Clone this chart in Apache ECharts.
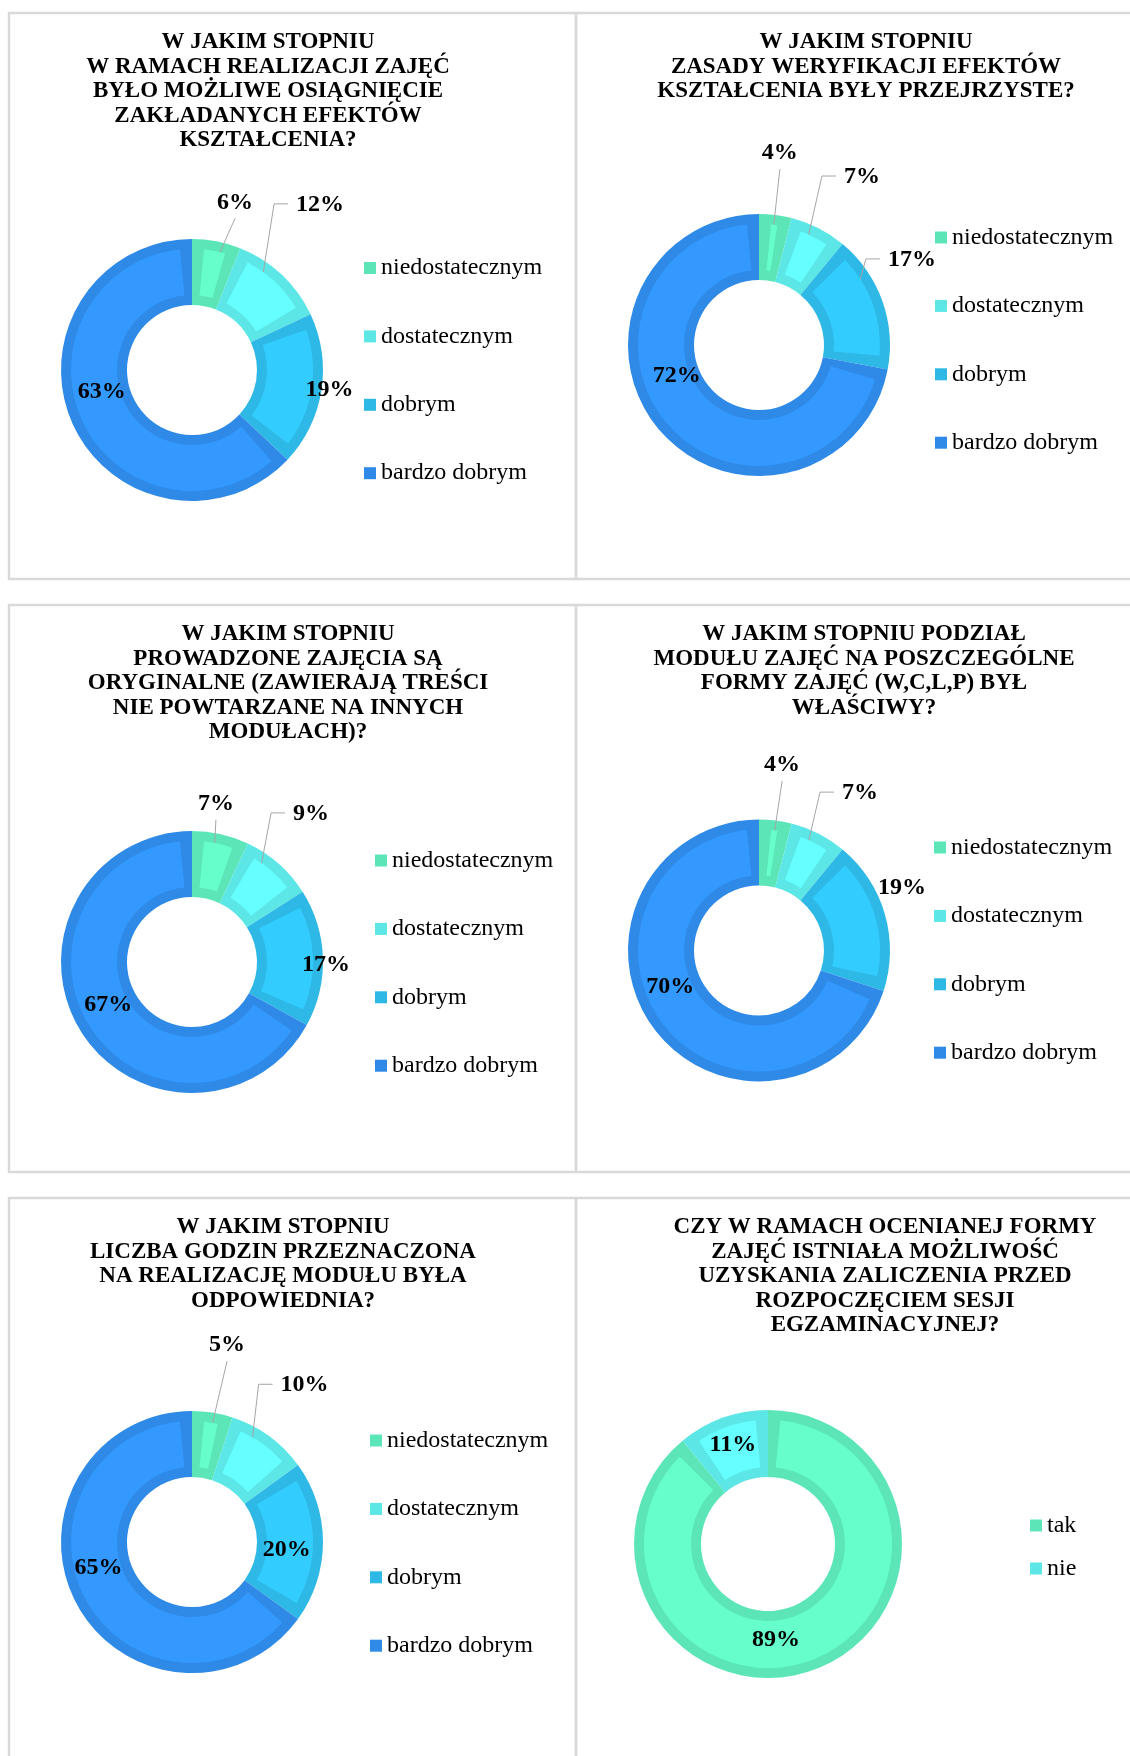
<!DOCTYPE html>
<html>
<head>
<meta charset="utf-8">
<script src="https://cdn.jsdelivr.net/npm/echarts@6/dist/echarts.min.js"></script>
<style>
html,body{margin:0;padding:0;background:#ffffff;}
#chart{width:1130px;height:1756px;}
</style>
</head>
<body>
<div id="chart"></div>
<script>
// ---------------- DATA ----------------
const GRADE_CATEGORIES = ['niedostatecznym', 'dostatecznym', 'dobrym', 'bardzo dobrym'];
const YESNO_CATEGORIES = ['tak', 'nie'];

const TITLE_1 = ['W JAKIM STOPNIU', 'W RAMACH REALIZACJI ZAJĘĆ', 'BYŁO MOŻLIWE OSIĄGNIĘCIE', 'ZAKŁADANYCH EFEKTÓW', 'KSZTAŁCENIA?'];
const VALUES_1 = [6, 12, 19, 63];

const TITLE_2 = ['W JAKIM STOPNIU', 'ZASADY WERYFIKACJI EFEKTÓW', 'KSZTAŁCENIA BYŁY PRZEJRZYSTE?'];
const VALUES_2 = [4, 7, 17, 72];

const TITLE_3 = ['W JAKIM STOPNIU', 'PROWADZONE ZAJĘCIA SĄ', 'ORYGINALNE (ZAWIERAJĄ TREŚCI', 'NIE POWTARZANE NA INNYCH', 'MODUŁACH)?'];
const VALUES_3 = [7, 9, 17, 67];

const TITLE_4 = ['W JAKIM STOPNIU PODZIAŁ', 'MODUŁU ZAJĘĆ NA POSZCZEGÓLNE', 'FORMY ZAJĘĆ (W,C,L,P) BYŁ', 'WŁAŚCIWY?'];
const VALUES_4 = [4, 7, 19, 70];

const TITLE_5 = ['W JAKIM STOPNIU', 'LICZBA GODZIN PRZEZNACZONA', 'NA REALIZACJĘ MODUŁU BYŁA', 'ODPOWIEDNIA?'];
const VALUES_5 = [5, 10, 20, 65];

const TITLE_6 = ['CZY W RAMACH OCENIANEJ FORMY', 'ZAJĘĆ ISTNIAŁA MOŻLIWOŚĆ', 'UZYSKANIA ZALICZENIA PRZED', 'ROZPOCZĘCIEM SESJI', 'EGZAMINACYJNEJ?'];
const VALUES_6 = [89, 11];

const CHARTS = [
  { title: TITLE_1, categories: GRADE_CATEGORIES, values: VALUES_1 },
  { title: TITLE_2, categories: GRADE_CATEGORIES, values: VALUES_2 },
  { title: TITLE_3, categories: GRADE_CATEGORIES, values: VALUES_3 },
  { title: TITLE_4, categories: GRADE_CATEGORIES, values: VALUES_4 },
  { title: TITLE_5, categories: GRADE_CATEGORIES, values: VALUES_5 },
  { title: TITLE_6, categories: YESNO_CATEGORIES, values: VALUES_6 }
];

// ---------------- STYLE / LAYOUT ----------------
const DARK = ['#5CE6B8', '#5CE6E6', '#2EB8E6', '#2E8AE6'];
const LIGHT = ['#66FFCC', '#66FFFF', '#33CCFF', '#3399FF'];
const SERIF = "'Liberation Serif', 'Times New Roman', serif";
const BORDER = 10;
const PAD_ANGLE = 11.5;

const LAYOUT = [
  { center: [192, 370],   r: 65, R: 131, titleX: 268, titleY: 30,   legendX: 364,  legendY: 256,    legendGap: 44.4 },
  { center: [759, 345],   r: 65, R: 131, titleX: 866, titleY: 30,   legendX: 935,  legendY: 225.5,  legendGap: 44.4 },
  { center: [192, 962],   r: 65, R: 131, titleX: 288, titleY: 622,  legendX: 375,  legendY: 848.5,  legendGap: 44.4 },
  { center: [759, 950.5], r: 65, R: 131, titleX: 864, titleY: 622,  legendX: 934,  legendY: 835.5,  legendGap: 44.4 },
  { center: [192, 1542],  r: 65, R: 131, titleX: 283, titleY: 1215, legendX: 370,  legendY: 1428.5, legendGap: 44.4 },
  { center: [768, 1544],  r: 67, R: 134, titleX: 885, titleY: 1215, legendX: 1030, legendY: 1513.5, legendGap: 19 }
];

// label placement: [angle offset from slice middle (deg), distance from centre (px), leader line kind]
const LABEL_STYLE = [
  [[3.6, 173, 'b'], [-5.4, 209, 'l'], [-0.8, 139, 0], [9.7, 93, 0]],
  [[-1, 193, 'b'], [4.5, 197, 'l'], [-9.3, 175, 'l'], [18.9, 88, 0]],
  [[-4, 160, 'b'], [-2.6, 190, 'l'], [3.1, 134, 0], [3.5, 94, 0]],
  [[-0.1, 187, 'b'], [5.7, 187, 'l'], [-7.4, 156, 0], [13.7, 96, 0]],
  [[1.1, 200, 'b'], [-0.3, 193, 'l'], [4.8, 95, 0], [11.4, 97, 0]],
  [[15, 96, 0], [0.3, 105, 0]]
];

const PANELS = [
  [9, 13, 567, 566], [576, 13, 580, 566],
  [9, 605, 567, 567], [576, 605, 580, 567],
  [9, 1198, 567, 600], [576, 1198, 580, 600]
];

function makeLabelLayout(ci) {
  return function (p) {
    const c = CHARTS[ci];
    const g = LAYOUT[ci];
    const spec = LABEL_STYLE[ci][p.dataIndex];
    const vals = c.values;
    const sum = vals.reduce((a, b) => a + b, 0);
    let cum = 0;
    for (let k = 0; k < p.dataIndex; k++) cum += vals[k];
    const mid = (cum + vals[p.dataIndex] / 2) / sum * 360;
    const th = (mid + spec[0]) * Math.PI / 180;
    const cx = g.center[0], cy = g.center[1];
    const lx = cx + spec[1] * Math.sin(th);
    const ly = cy - spec[1] * Math.cos(th);
    const out = { x: lx, y: ly, align: 'center', verticalAlign: 'middle' };
    if (spec[2]) {
      const rm = (g.r + g.R) / 2;
      const m = mid * Math.PI / 180;
      const sx = cx + rm * Math.sin(m), sy = cy - rm * Math.cos(m);
      if (spec[2] === 'b') {
        out.labelLinePoints = [[sx, sy], [lx, ly + 16]];
      } else {
        const tx = lx - p.labelRect.width / 2 - 8;
        out.labelLinePoints = [[sx, sy], [tx - 14, ly - 1], [tx, ly - 1]];
      }
    }
    return out;
  };
}

const series = [];
const titles = [];
const legends = [];

CHARTS.forEach(function (c, ci) {
  const g = LAYOUT[ci];
  const darkData = c.categories.map(function (name, i) {
    return { name: name, value: c.values[i], itemStyle: { color: DARK[i] } };
  });
  const lightData = c.categories.map(function (name, i) {
    const hasLine = !!LABEL_STYLE[ci][i][2];
    return {
      name: name,
      value: c.values[i],
      itemStyle: { color: LIGHT[i] },
      label: { position: hasLine ? 'outside' : 'inside' },
      labelLine: { show: hasLine }
    };
  });
  series.push({
    type: 'pie',
    z: 2,
    silent: true,
    center: g.center,
    radius: [g.r, g.R],
    startAngle: 90,
    clockwise: true,
    avoidLabelOverlap: false,
    emphasis: { disabled: true },
    itemStyle: { borderWidth: 0 },
    label: { show: false },
    labelLine: { show: false },
    data: darkData
  });
  series.push({
    type: 'pie',
    z: 3,
    silent: true,
    center: g.center,
    radius: [g.r + BORDER, g.R - BORDER],
    startAngle: 90,
    clockwise: true,
    padAngle: PAD_ANGLE,
    avoidLabelOverlap: false,
    emphasis: { disabled: true },
    itemStyle: { borderWidth: 0 },
    label: {
      show: true,
      formatter: function (p) { return p.value + '%'; },
      fontFamily: SERIF,
      fontWeight: 'bold',
      fontSize: 24,
      color: '#000000'
    },
    labelLine: { show: false, lineStyle: { color: '#A6A6A6', width: 1 } },
    labelLayout: makeLabelLayout(ci),
    data: lightData
  });
  titles.push({
    text: c.title.join('\n'),
    left: g.titleX,
    top: g.titleY,
    textAlign: 'center',
    padding: 0,
    textStyle: {
      fontFamily: SERIF,
      fontWeight: 'bold',
      fontSize: 23,
      lineHeight: 24.5,
      color: '#000000'
    }
  });
  legends.push({
    data: c.categories,
    orient: 'vertical',
    left: g.legendX,
    top: g.legendY,
    padding: 0,
    itemWidth: 12,
    itemHeight: 12,
    itemGap: g.legendGap,
    icon: 'rect',
    selectedMode: false,
    textStyle: { fontFamily: SERIF, fontSize: 24, lineHeight: 23, color: '#000000' }
  });
});

const graphics = PANELS.map(function (b) {
  return {
    type: 'rect',
    silent: true,
    z: -10,
    shape: { x: b[0], y: b[1], width: b[2], height: b[3] },
    style: { fill: 'none', stroke: '#D9D9D9', lineWidth: 2.5 }
  };
});

const chart = echarts.init(document.getElementById('chart'), null, { renderer: 'canvas', width: 1130, height: 1756 });
chart.setOption({
  backgroundColor: '#ffffff',
  animation: false,
  title: titles,
  legend: legends,
  graphic: graphics,
  series: series
});
</script>
</body>
</html>
